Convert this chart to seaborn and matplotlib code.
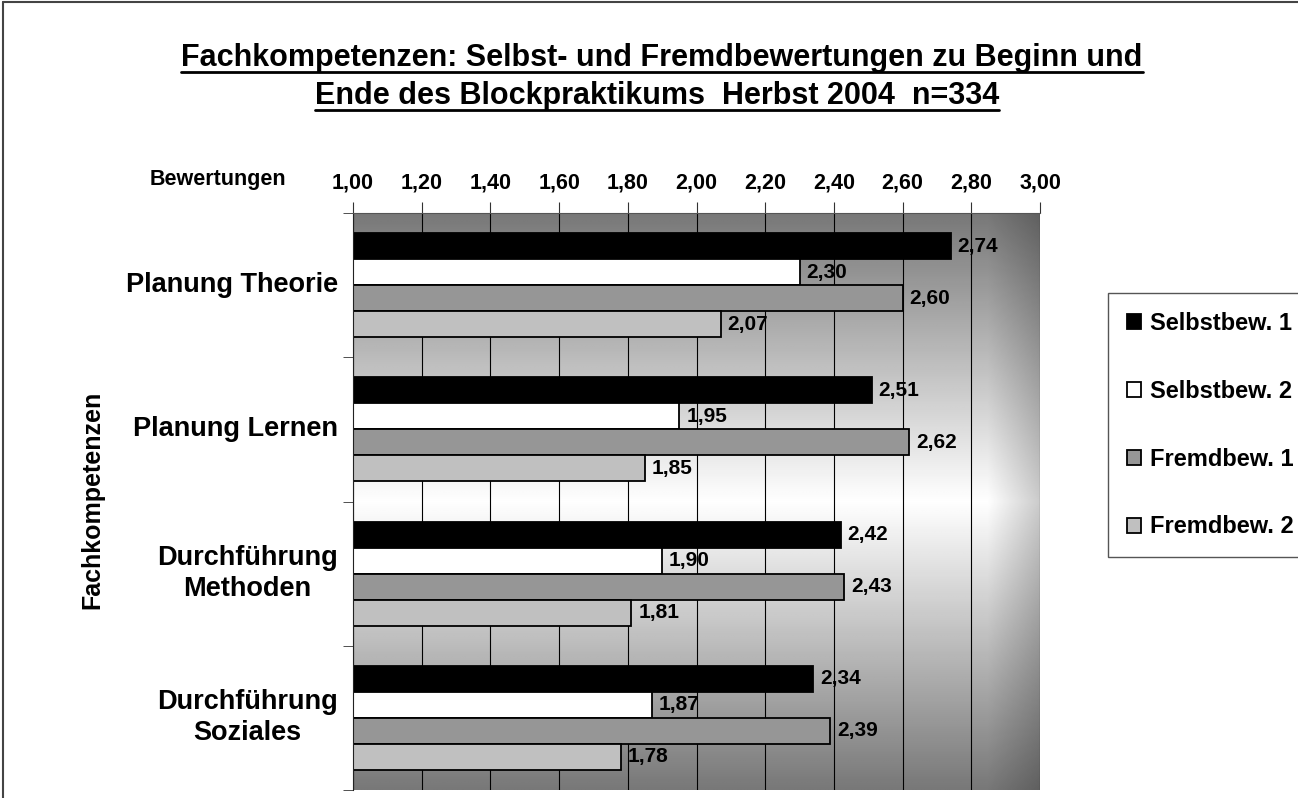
import numpy as np
import pandas as pd
import matplotlib
matplotlib.use("Agg")
import matplotlib.pyplot as plt
import seaborn as sns
from matplotlib.transforms import blended_transform_factory
from matplotlib.lines import Line2D

# Werte
categories = ["Planung Theorie", "Planung Lernen", "Durchführung\nMethoden", "Durchführung\nSoziales"]
series = ["Selbstbew. 1", "Selbstbew. 2", "Fremdbew. 1", "Fremdbew. 2"]
selbst_1 = [2.74, 2.51, 2.42, 2.34]
selbst_2 = [2.30, 1.95, 1.90, 1.87]
fremd_1 = [2.60, 2.62, 2.43, 2.39]
fremd_2 = [2.07, 1.85, 1.81, 1.78]
x_ticks = [1.00, 1.20, 1.40, 1.60, 1.80, 2.00, 2.20, 2.40, 2.60, 2.80, 3.00]
x_tick_labels = ["1,00", "1,20", "1,40", "1,60", "1,80", "2,00", "2,20", "2,40", "2,60", "2,80", "3,00"]
colors = ["#000000", "#ffffff", "#969696", "#c0c0c0"]

title_1 = "Fachkompetenzen: Selbst- und Fremdbewertungen zu Beginn und"
title_2 = "Ende des Blockpraktikums  Herbst 2004  n=334"

values = [selbst_1, selbst_2, fremd_1, fremd_2]
df = pd.DataFrame({
    "kategorie": [c for s in series for c in categories],
    "serie": [s for s in series for c in categories],
    "wert": [v for vals in values for v in vals],
})

sns.set_style("white")
plt.rcParams["font.family"] = ["Liberation Sans", "DejaVu Sans"]
plt.rcParams["font.weight"] = "bold"
plt.rcParams["text.color"] = "black"
plt.rcParams["xtick.color"] = "black"
plt.rcParams["ytick.color"] = "black"

W, H = 1298, 798
fig = plt.figure(figsize=(W / 100, H / 100), dpi=100)
ax = fig.add_axes([353 / W, 1 - 790 / H, 687 / W, 577 / H])

# Hintergrund mit Verlauf (dunkel oben/unten, hell in der Mitte, rechts etwas dunkler)
yy = np.linspace(0, 1, 300)[:, None]
xx = np.linspace(1, 3, 400)[None, :]
hell = 0.47 + 0.53 * (1 - np.abs(2 * yy - 1))
rand = np.clip((xx - 2.85) / 0.15, 0, 1)
bg = hell * (1 - 0.2 * rand)
ax.imshow(bg, cmap="gray", vmin=0, vmax=1, extent=(1, 3, 3.5, -0.5),
          aspect="auto", zorder=0, interpolation="bilinear")

sns.barplot(data=df, x="wert", y="kategorie", hue="serie", order=categories,
            hue_order=series, palette=colors, saturation=1, width=0.72,
            edgecolor="black", linewidth=1.3, orient="h", ax=ax)

ax.set_xlim(1, 3)
ax.set_ylim(3.5, -0.5)
ax.set_axisbelow(True)
ax.xaxis.grid(True, color="black", lw=0.8)
ax.set_xlabel("")
ax.set_ylabel("")

ax.xaxis.tick_top()
ax.set_xticks(x_ticks)
ax.set_xticklabels(x_tick_labels, fontsize=15.5, fontweight="bold", color="black")
ax.tick_params(axis="x", which="major", top=True, bottom=False, direction="out",
               length=8, pad=6, color="#333333")
ax.set_yticks(range(len(categories)))
ax.set_yticklabels([])
ax.tick_params(axis="y", which="major", length=0)
ax.set_yticks([-0.5, 0.5, 1.5, 2.5, 3.5], minor=True)
ax.tick_params(axis="y", which="minor", left=True, direction="out", length=7,
               color="#333333")

for side in ["right", "bottom"]:
    ax.spines[side].set_visible(False)
ax.spines["top"].set_color("#555555")
ax.spines["left"].set_color("#222222")

trans = blended_transform_factory(ax.transAxes, ax.transData)
for i, cat in enumerate(categories):
    ax.text(-0.022, i, cat, transform=trans, ha="right", va="center",
            multialignment="center", fontsize=19.5, fontweight="bold",
            linespacing=1.25, color="black")

for cont, vals in zip(ax.containers, values):
    ax.bar_label(cont, labels=[f"{v:.2f}".replace(".", ",") for v in vals],
                 padding=5, fontsize=15, fontweight="bold", color="black")

handles, labels = ax.get_legend_handles_labels()
ax.get_legend().remove()
leg = fig.legend(handles, labels, loc="upper left",
                 bbox_to_anchor=(1108 / W, 1 - 293 / H), borderaxespad=0,
                 frameon=True, fancybox=False, edgecolor="#555555", framealpha=1,
                 prop={"size": 17, "weight": "bold"}, handlelength=0.6,
                 handleheight=0.6, labelspacing=1.9, borderpad=0.8,
                 handletextpad=0.4, labelcolor="black")

fig.text(218 / W, 1 - 180 / H, "Bewertungen", ha="center", va="center",
         fontsize=15.5, fontweight="bold", color="black")
fig.text(92 / W, 1 - 500 / H, "Fachkompetenzen", ha="center", va="center",
         rotation=90, fontsize=18, fontweight="bold", color="black")

t1 = fig.text(662 / W, 1 - 58 / H, title_1, ha="center", va="center",
              fontsize=22, fontweight="bold", color="black")
t2 = fig.text(657 / W, 1 - 96 / H, title_2, ha="center", va="center",
              fontsize=22, fontweight="bold", color="black")

# Unterstreichung des Titels
fig.canvas.draw()
renderer = fig.canvas.get_renderer()
for t in [t1, t2]:
    bb = t.get_window_extent(renderer)
    y = (bb.y0 + 1) / H
    fig.add_artist(Line2D([bb.x0 / W, bb.x1 / W], [y, y], transform=fig.transFigure,
                          color="black", lw=2))

# Rahmen (rechts und unten abgeschnitten)
fig.add_artist(Line2D([3 / W, 3 / W], [0, 1 - 2 / H], transform=fig.transFigure,
                      color="#444444", lw=1.5))
fig.add_artist(Line2D([3 / W, 1], [1 - 2 / H, 1 - 2 / H], transform=fig.transFigure,
                      color="#444444", lw=1.5))

fig.savefig("out.png", dpi=100)
